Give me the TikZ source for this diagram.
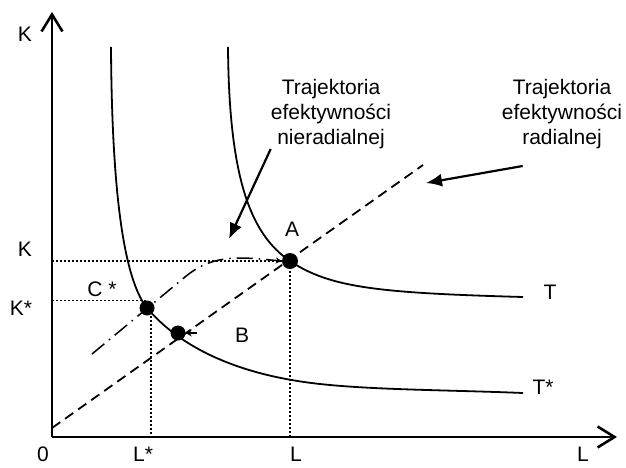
\documentclass[tikz,border=0pt]{standalone}
\usepackage{fontspec}
\setmainfont{Liberation Sans}
\usetikzlibrary{arrows.meta}

\begin{document}
\begin{tikzpicture}[
  x=1pt, y=1pt,
  font=\fontsize{21}{25}\selectfont,
  axis/.style={line width=2.6pt, -{Straight Barb[length=17pt,width=21pt]}},
  curve/.style={line width=1.8pt},
  radial/.style={line width=1.8pt, dash pattern=on 10pt off 6pt},
  nonradial/.style={line width=1.5pt, dash pattern=on 16pt off 6pt on 1.5pt off 6pt},
  guide/.style={line width=1.4pt, dash pattern=on 1.6pt off 2.4pt},
  dot/.style={circle, fill, inner sep=0pt, minimum size=15pt},
  callout/.style={line width=2.2pt, -{Latex[length=16pt,width=13pt]}},
  tick/.style={line width=1.5pt, -{Stealth[length=6pt,width=7pt]}},
  lbl/.style={inner sep=0pt}
]
  \useasboundingbox (0,0) rectangle (626,467);

  \coordinate (O) at (52,30);
  \coordinate (ytop) at (52,455);
  \coordinate (xend) at (617,30);
  \draw[axis] (O) -- (ytop);
  \draw[axis] (O) -- (xend);

  \node[lbl] (Ktop) at (25,433) {K};
  \node[lbl] (zero) at (43,13) {0};
  \node[lbl] (Klab) at (25,218) {K};
  \node[lbl] (Kstar) at (21,159) {K*};
  \node[lbl] (Cstar) at (102,178) {C *};
  \node[lbl] (Lstar) at (143,13) {L*};
  \node[lbl] (Llab) at (296,13) {L};
  \node[lbl] (Lend) at (583,13) {L};
  \node[lbl] (Alab) at (292,238) {A};
  \node[lbl] (Blab) at (242,132) {B};
  \node[lbl] (Tlab) at (550,175) {T};
  \node[lbl] (Tslab) at (543,80) {T*};

  \node[dot, minimum size=16pt] (A) at (290,206) {};
  \node[dot] (Cs) at (147,159) {};
  \node[dot] (B) at (178,134) {};

  \draw[curve] (111,420) .. controls (112,250) and (128,183) .. (Cs.center)
    .. controls (165,138) and (210,95) .. (320,83)
    .. controls (375,77) and (450,77) .. (523,74);
  \draw[curve] (228,420) .. controls (229,290) and (250,233) .. (A.center)
    .. controls (330,179) and (380,174) .. (523,170);

  \draw[guide] (A.center -| O) -- (A.center) -- (A.center |- O);
  \draw[guide] (Cs.north -| O) -- (Cs.north);
  \draw[guide] ([xshift=4pt]Cs.center) -- ([xshift=4pt]Cs.center |- O);

  \coordinate (rend) at (423,302);
  \draw[radial] ([yshift=9pt]O) -- (rend);
  \coordinate (nrstart) at (92,113);
  \draw[nonradial, -{Stealth[length=6pt,width=6pt]}] (nrstart) -- (185,190)
    to[out=40,in=175] (A.west);
  \draw[tick] ([xshift=19pt]B.center) -- (B.east);

  \node[lbl, align=center] (nonrad) at (331,353) {Trajektoria\\efektywności\\nieradialnej};
  \node[lbl, align=center] (rad) at (562,353) {Trajektoria\\efektywności\\radialnej};
  \coordinate (nrtip) at (229,228);
  \coordinate (rtip) at (426,284);
  \draw[callout] (nonrad.south west) -- (nrtip);
  \draw[callout] ([shift={(21,-17)}]rad.south west) -- (rtip);
\end{tikzpicture}
\end{document}
